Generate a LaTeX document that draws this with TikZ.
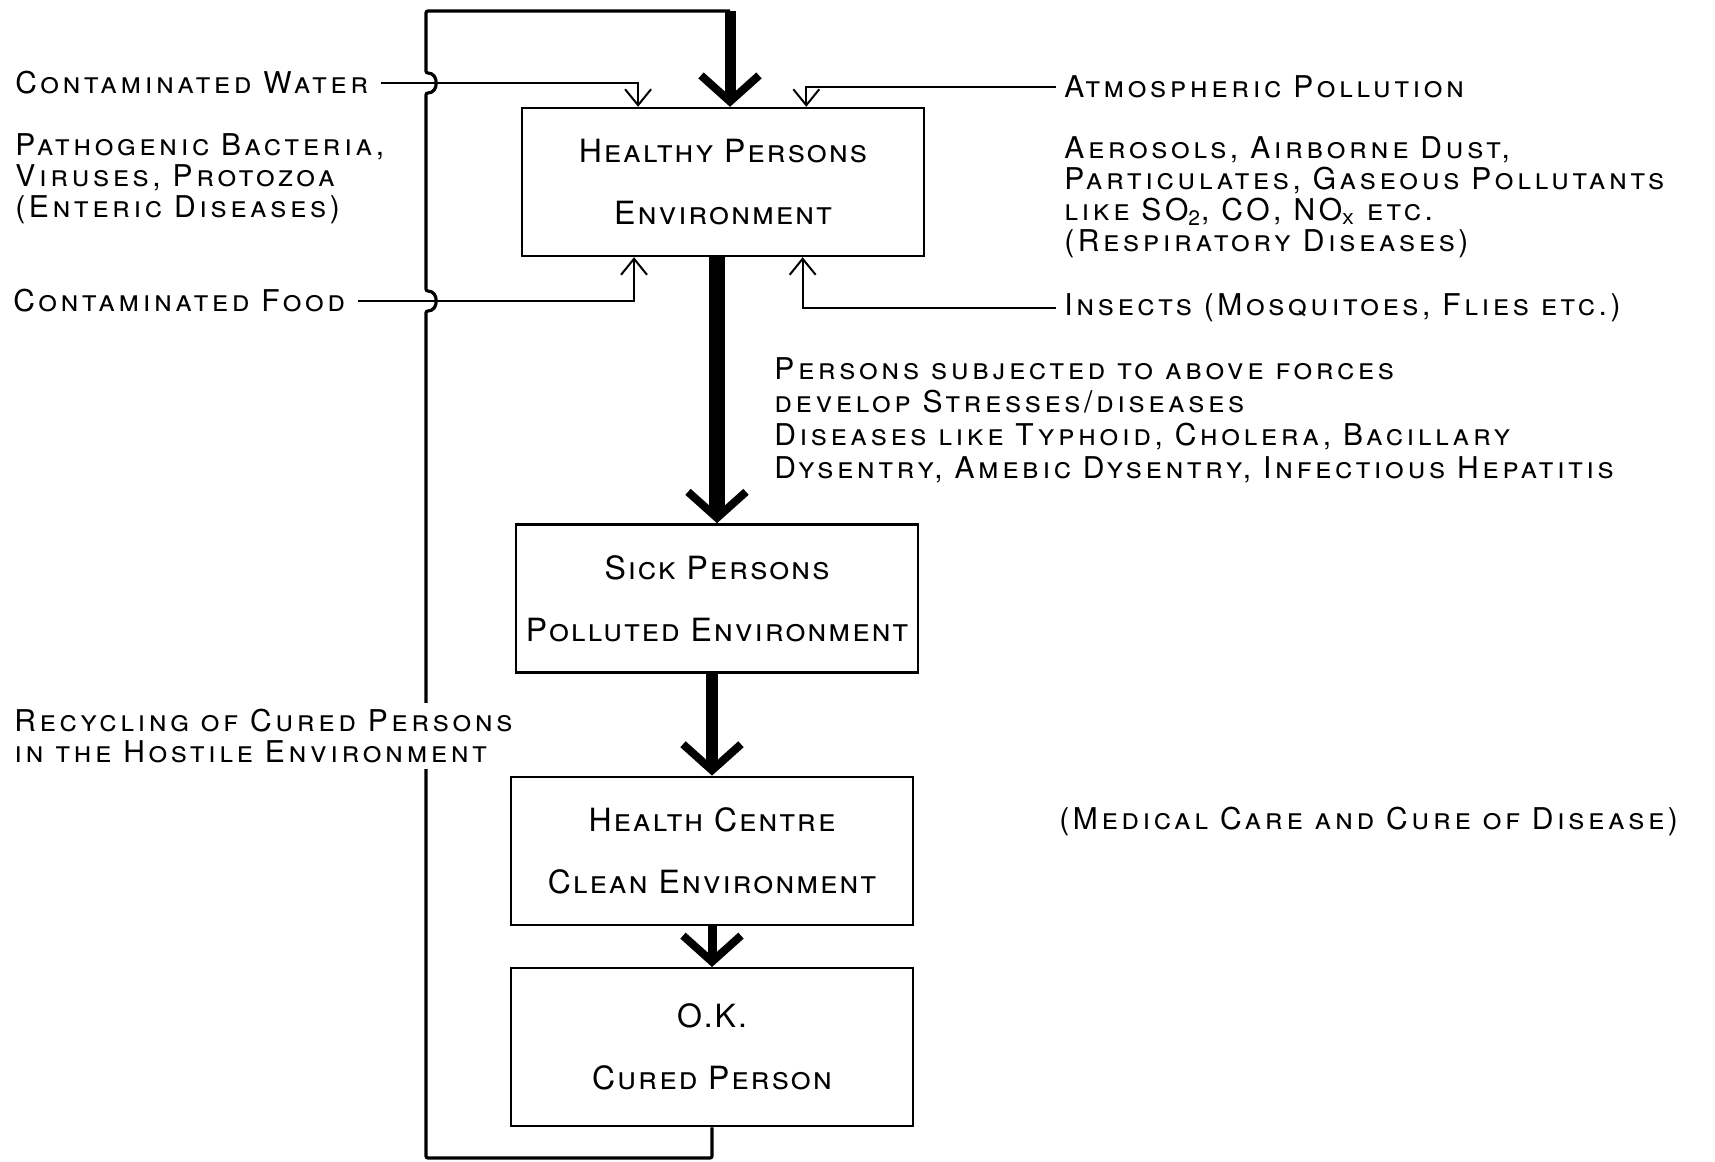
\documentclass[tikz,border=0pt]{standalone}
\usepackage{fontspec}
\setmainfont{TeX Gyre Heros}[LetterSpace=12]
\usetikzlibrary{positioning,arrows.meta,calc}

\begin{document}
\begin{tikzpicture}[
    x=0.5pt, y=-0.5pt,
    every node/.style={inner sep=0pt, align=left, font=\fontsize{15}{15.5}\selectfont\scshape},
    box/.style={draw, line width=1.2pt, minimum width=201pt, minimum height=74pt, align=center, font=\fontsize{16}{31}\selectfont\scshape\addfontfeature{LetterSpace=6}},
    note/.style={anchor=west},
    feed/.style={line width=1pt, -{Straight Barb[length=8pt, width=13pt]}},
    flow/.style={line width=#1, -{Straight Barb[length=13pt, width=29pt, line width=4pt]}},
    flow/.default=6pt,
    backline/.style={line width=1.6pt, rounded corners=1pt}
]
\useasboundingbox (0,0) rectangle (1715,1162);

\node[box] (healthy) at (723,182) {Healthy Persons\\Environment};
\node[box, below=133pt of healthy, xshift=-3pt] (sick) {Sick Persons\\Polluted Environment};
\node[box, below=51pt of sick, xshift=-2.5pt] (centre) {Health Centre\\Clean Environment};
\node[box, below=20.5pt of centre, minimum height=79pt] (cured) {O.K.\\Cured Person};

\node[note] (water) at (15,83) {Contaminated Water};
\node[note] (pathogens) at (15,179) {Pathogenic Bacteria,\\Viruses, Protozoa\\(Enteric Diseases)};
\node[note] (food) at (13,301) {Contaminated Food};
\node[note] (atmos) at (1064,87) {Atmospheric Pollution};
\node[note] (aerosols) at (1064,197) {Aerosols, Airborne Dust,\\Particulates, Gaseous Pollutants\\like SO\textsubscript{2}, CO, NO\textsubscript{x} etc.\\(Respiratory Diseases)};
\node[note] (insects) at (1064,308) {Insects (Mosquitoes, Flies etc.)};
\node[note, font=\fontsize{15}{16.5}\selectfont\scshape] (effects) at (774,420) {Persons subjected to above forces\\develop Stresses/diseases\\Diseases like Typhoid, Cholera, Bacillary\\Dysentry, Amebic Dysentry, Infectious Hepatitis};
\node[note] (medical) at (1059,821) {(Medical Care and Cure of Disease)};

\coordinate (wtip) at ($(healthy.north west)!0.29!(healthy.north east)$);
\coordinate (atip) at ($(healthy.north west)!0.706!(healthy.north east)$);
\coordinate (ftip) at ($(healthy.south west)!0.28!(healthy.south east)$);
\coordinate (itip) at ($(healthy.south west)!0.697!(healthy.south east)$);
\coordinate (looptop) at (730,11);

\draw[feed] ([xshift=6pt]water.east) -| (wtip);
\draw[feed] ([xshift=-4pt]atmos.west) -| (atip);
\draw[feed] ([xshift=6pt]food.east) -| (ftip);
\draw[feed] ([xshift=-4pt]insects.west) -| (itip);

\draw[backline] (cured.south) -- (cured.south |- 0,1158) -- (426,1158) -- (426,311)
    .. controls (439,311) and (439,291) .. (426,291) -- (426,93)
    .. controls (439,93) and (439,73) .. (426,73) -- (426,11) -- (looptop);
\node[note, fill=white, inner sep=3pt] (recycle) at (8,736) {Recycling of Cured Persons\\in the Hostile Environment};

\draw[flow=5.5pt] (looptop) -- (looptop |- healthy.north);
\draw[flow=8pt] (sick.north |- healthy.south) -- (sick.north);
\draw[flow=6pt] (centre.north |- sick.south) -- (centre.north);
\draw[flow=4.5pt] (cured.north |- centre.south) -- (cured.north);
\end{tikzpicture}
\end{document}
